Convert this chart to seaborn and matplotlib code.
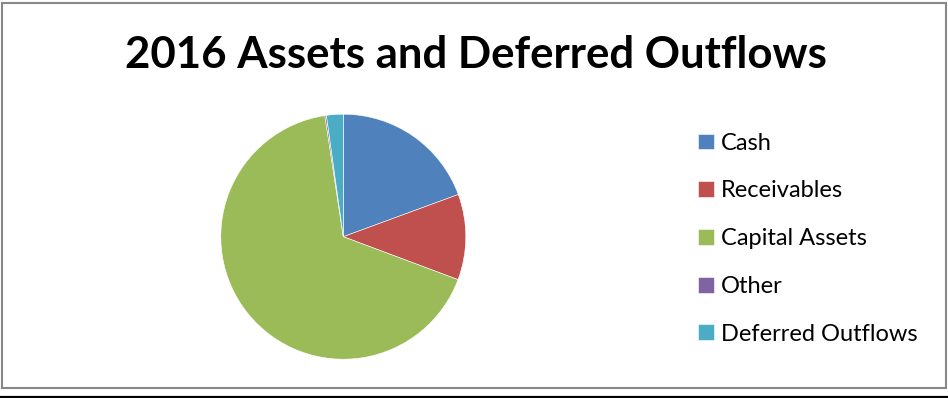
import matplotlib
matplotlib.use("Agg")
import matplotlib.pyplot as plt
from matplotlib.patches import Rectangle
from matplotlib.lines import Line2D
import seaborn as sns

# Composition of 2016 assets and deferred outflows (percent of total)
categories = ["Cash", "Receivables", "Capital Assets", "Other", "Deferred Outflows"]
shares = [19.4, 11.3, 66.9, 0.2, 2.2]
colors = ["#4F81BD", "#C0504D", "#9BBB59", "#8064A2", "#4BACC6"]
title = "2016 Assets and Deferred Outflows"

sns.set_theme(style="white")
plt.rcParams["font.family"] = ["Lato", "DejaVu Sans"]
palette = sns.color_palette(colors)

W, H, DPI = 948, 398, 100
fig = plt.figure(figsize=(W / DPI, H / DPI), dpi=DPI)
fig.patch.set_facecolor("white")

def px(x0, y0, w, h):
    """Convert a top-left pixel box to figure fractions."""
    return [x0 / W, 1 - (y0 + h) / H, w / W, h / H]

# Pie area
ax = fig.add_axes(px(220.8, 114.2, 245, 245))
wedges, _ = ax.pie(
    shares,
    colors=palette,
    startangle=90,
    counterclock=False,
    radius=1.0,
    wedgeprops=dict(edgecolor="white", linewidth=0.4),
)
ax.set_xlim(-1, 1)
ax.set_ylim(-1, 1)
ax.set_aspect("equal")
ax.axis("off")

# Title
fig.text(475.5 / W, 1 - 55 / H, title, ha="center", va="center",
         fontsize=31.5, fontweight="bold", color="black")

# Legend
leg = fig.legend(
    wedges, categories,
    loc="upper left",
    bbox_to_anchor=(698 / W, 1 - 132.8 / H),
    frameon=False,
    fontsize=17,
    handlelength=0.66,
    handleheight=0.66,
    handletextpad=0.3,
    labelspacing=1.13,
    borderaxespad=0,
    borderpad=0,
)
for t in leg.get_texts():
    t.set_color("black")

# Chart area border and bottom rule
fig.add_artist(Rectangle((1.5 / W, 1 - 388 / H), 944.5 / W, 385.5 / H,
                         transform=fig.transFigure, fill=False,
                         edgecolor="#888888", linewidth=1.5))
fig.add_artist(Line2D([0, 1], [1 - 396.8 / H, 1 - 396.8 / H],
                      transform=fig.transFigure, color="black", linewidth=1.6))

fig.savefig("out.png", dpi=DPI, facecolor="white")
